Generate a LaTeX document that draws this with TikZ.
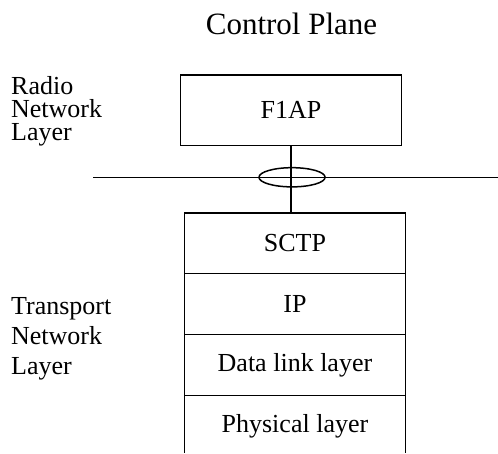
\documentclass[tikz,border=0pt]{standalone}
\usepackage{fontspec}
\setmainfont{Liberation Serif}
\usetikzlibrary{shapes.geometric}

\begin{document}
\begin{tikzpicture}

  \tikzset{LN/.style={line width=0.6pt}}

  \tikzset{LYR/.style={draw, LN, minimum width=3.11cm, minimum height=0.856cm, inner sep=0pt,
      outer sep=0pt, font=\fontsize{10.4}{12}\selectfont} }

  \tikzset{TXT/.style={anchor=north west, align=left, inner sep=0pt} }

  \useasboundingbox (0.0,0.0) rectangle (7.0,6.368);

  \node (title) at (4.098,5.886) [anchor=base, font=\fontsize{12.4}{14}\selectfont] {Control Plane};

  \node[LYR, minimum height=0.994cm] (p0) at (4.09,4.817) {F1AP};

  \node[LYR] (t0) at (4.146,2.948) {SCTP};
  \node[LYR] (t1) at (4.146,2.092) {IP};
  \node[LYR] (t2) at (4.146,1.236) {Data link layer};
  \node[LYR, draw=none] (t3) at (4.146,0.380) {Physical layer};

  \node[TXT, font=\fontsize{10.4}{9.2}\selectfont] (r0) at (0.15,5.30) {Radio\\Network\\Layer};
  \node[TXT, font=\fontsize{10.4}{12}\selectfont] (n0) at (0.15,2.19) {Transport\\Network\\Layer};

  \coordinate (h0) at (1.312,3.876);
  \coordinate (h1) at (7.0,3.876);
  \coordinate (b0) at (0.0,0.0);

  \node[ellipse, draw, LN, minimum width=0.93cm, minimum height=0.27cm, inner sep=0pt] (e0) at (4.105,3.876) {};

  \draw[LN] (h0) -- (h1);
  \draw[LN] (p0.south) -- (p0.south |- t0.north);
  \draw[LN] (t3.north west) -- (t3.north west |- b0);
  \draw[LN] (t3.north east) -- (t3.north east |- b0);
  \end{tikzpicture}
\end{document}
